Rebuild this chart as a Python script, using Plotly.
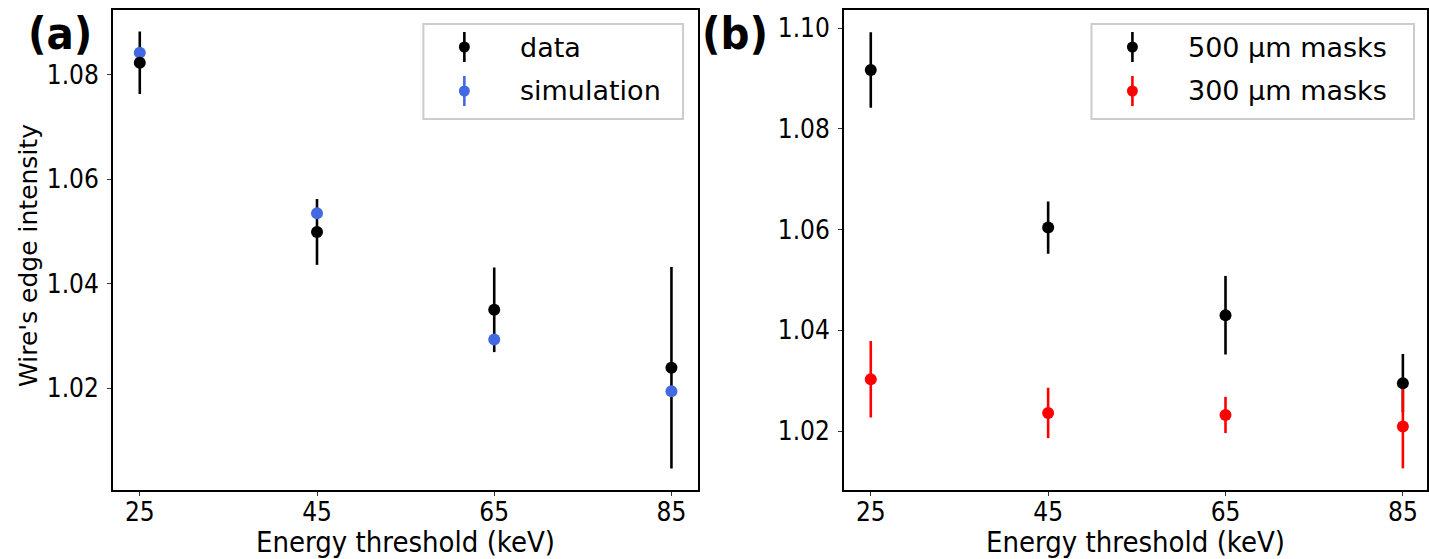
import plotly.graph_objects as go

W, H = 1429, 559

# ---------------- data ----------------
energy = [25, 45, 65, 85]
x_ticks = [25, 45, 65, 85]

# panel (a)
data_y = [1.0823, 1.0499, 1.0350, 1.0239]
data_err = [0.0060, 0.0063, 0.0081, 0.0193]
sim_y = [1.0842, 1.0535, 1.0293, 1.0194]

# panel (b)
m500_y = [1.0917, 1.0604, 1.0430, 1.0295]
m500_err = [0.0075, 0.0052, 0.0078, 0.0058]
m300_y = [1.0303, 1.0236, 1.0232, 1.0209]
m300_err = [0.0076, 0.0050, 0.0036, 0.0083]

ya_ticks = [1.02, 1.04, 1.06, 1.08]
yb_ticks = [1.02, 1.04, 1.06, 1.08, 1.10]

BLACK = "#000000"
BLUE = "#4169E1"
RED = "#FF0000"
FONT = "DejaVu Sans"
CFONT = "DejaVu Sans Condensed, DejaVu Sans"

def px(x):
    return x / W

def py(y):
    return (H - y) / H

fig = go.Figure()

def err_trace(x, y, e, color, xa, ya):
    return go.Scatter(x=x, y=y, mode="markers", xaxis=xa, yaxis=ya,
                      marker=dict(size=1, color=color, opacity=0),
                      error_y=dict(type="data", array=e, visible=True, color=color,
                                   thickness=2.6, width=0),
                      showlegend=False, hoverinfo="skip")

def pt_trace(x, y, color, xa, ya):
    return go.Scatter(x=x, y=y, mode="markers", xaxis=xa, yaxis=ya,
                      marker=dict(size=12, color=color, line=dict(width=0)),
                      showlegend=False)

# panel a
fig.add_trace(err_trace(energy, data_y, data_err, BLACK, "x", "y"))
fig.add_trace(pt_trace(energy, sim_y, BLUE, "x", "y"))
fig.add_trace(pt_trace(energy, data_y, BLACK, "x", "y"))
# panel b
fig.add_trace(err_trace(energy, m500_y, m500_err, BLACK, "x2", "y2"))
fig.add_trace(err_trace(energy, m300_y, m300_err, RED, "x2", "y2"))
fig.add_trace(pt_trace(energy, m300_y, RED, "x2", "y2"))
fig.add_trace(pt_trace(energy, m500_y, BLACK, "x2", "y2"))

axis_common = dict(showgrid=False, zeroline=False, showline=True, linecolor="black",
                   linewidth=1.5, mirror=True, ticks="outside", ticklen=4,
                   tickcolor="#333333", tickwidth=1,
                   tickfont=dict(family=CFONT, size=26, color="black"))

fig.update_layout(
    width=W, height=H,
    margin=dict(l=0, r=0, t=0, b=0),
    paper_bgcolor="white", plot_bgcolor="white",
    showlegend=False,
    xaxis=dict(domain=[px(113), px(699)], range=[21.96, 88.0], tickvals=x_ticks,
               anchor="y", ticklabelstandoff=-6, **axis_common),
    yaxis=dict(domain=[py(490), py(10)], range=[1.0005, 1.0924], tickvals=ya_ticks,
               tickformat=".2f", anchor="x", ticklabelstandoff=3, **axis_common),
    xaxis2=dict(domain=[px(845), 1.0], range=[21.96, 87.72], tickvals=x_ticks,
                anchor="y2", ticklabelstandoff=-6, **axis_common),
    yaxis2=dict(domain=[py(490), py(10)], range=[1.0083, 1.1036], tickvals=yb_ticks,
                tickformat=".2f", anchor="x2", ticklabelstandoff=3, **axis_common),
)

annotations = []
shapes = []

# axis titles
for cx in [(113 + 699) / 2, (845 + 1429) / 2]:
    annotations.append(dict(text="Energy threshold (keV)", x=px(cx), y=py(542),
                            xref="paper", yref="paper", showarrow=False,
                            xanchor="center", yanchor="middle",
                            font=dict(family=CFONT, size=29, color="black")))
annotations.append(dict(text="Wire's edge intensity", x=px(28), y=py(255),
                        xref="paper", yref="paper", showarrow=False, textangle=-90,
                        xanchor="center", yanchor="middle",
                        font=dict(family=FONT, size=25, color="black")))
# panel labels
annotations.append(dict(text="<b>(a)</b>", x=px(60), y=py(34), xref="paper", yref="paper",
                        showarrow=False, xanchor="center", yanchor="middle",
                        font=dict(family=CFONT, size=45, color="black")))
annotations.append(dict(text="<b>(b)</b>", x=px(736), y=py(34), xref="paper", yref="paper",
                        showarrow=False, xanchor="center", yanchor="middle",
                        font=dict(family=CFONT, size=45, color="black")))

# manual legends (glyph: point with vertical error bar)
def legend(x0, x1, y0, y1, mx, tx, rows):
    shapes.append(dict(type="rect", xref="paper", yref="paper",
                       x0=px(x0), x1=px(x1), y0=py(y1), y1=py(y0),
                       line=dict(color="#cccccc", width=2), fillcolor="white", layer="above"))
    for (ry, label, color) in rows:
        shapes.append(dict(type="line", xref="paper", yref="paper",
                           x0=px(mx), x1=px(mx), y0=py(ry + 15), y1=py(ry - 15),
                           line=dict(color=color, width=2.6), layer="above"))
        shapes.append(dict(type="circle", xref="paper", yref="paper",
                           x0=px(mx - 5.5), x1=px(mx + 5.5), y0=py(ry + 5.5), y1=py(ry - 5.5),
                           line=dict(color=color, width=0), fillcolor=color, layer="above"))
        annotations.append(dict(text=label, x=px(tx), y=py(ry), xref="paper", yref="paper",
                                showarrow=False, xanchor="left", yanchor="middle",
                                font=dict(family=FONT, size=27, color="black")))

legend(424, 684, 24, 119, 465, 519, [(47, "data", BLACK), (91, "simulation", BLUE)])
legend(1093, 1416, 24, 119, 1134, 1188, [(47, "500 µm masks", BLACK), (91, "300 µm masks", RED)])

fig.update_layout(annotations=annotations, shapes=shapes)

fig.write_html("out.html", config={"displayModeBar": False},
               post_script="document.body.style.margin='0';document.body.style.overflow='hidden';")
